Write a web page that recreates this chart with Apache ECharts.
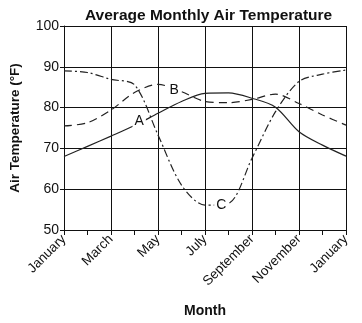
<!DOCTYPE html>
<html><head><meta charset="utf-8">
<script src="https://cdn.jsdelivr.net/npm/echarts@6/dist/echarts.min.js"></script>
<style>html,body{margin:0;padding:0;background:#fff}#c{width:362px;height:323px}</style>
</head><body><div id="c"></div>
<script>
var monthIdx = [0,1,2,3,4,5,6,7,8,9,10,11,12];
var tickLabels = ['January','March','May','July','September','November','January'];
var seriesA = [68, 70.5, 73, 75.6, 78.6, 81.5, 83.5, 83.6, 82.3, 80.1, 74.1, 70.8, 68.1];
var seriesB = [75.5, 76.3, 79.4, 83.7, 85.7, 83.9, 81.5, 81.2, 82, 83.3, 81, 78.2, 75.7];
var seriesC = [89, 88.6, 86.9, 85.6, 73.3, 61, 56.1, 56.5, 67.6, 79, 86.4, 88.2, 89.2];
var labelA = [3.2, 76.7], labelB = [4.69, 84.3], labelC = [6.69, 56.1];

function pts(v){ return monthIdx.map(function(m,i){ return [m, v[i]]; }); }
function mp(name, xy){
  return { symbol:'rect', symbolSize:0, silent:true, animation:false,
    data:[{ coord: xy, value: name,
      label:{ show:true, formatter:name, position:'inside', color:'#111', fontSize:14,
        fontFamily:'Liberation Sans', backgroundColor:'#fff', padding:[1,2] } }] };
}
var chart = echarts.init(document.getElementById('c'));
var font = 'Liberation Sans';
chart.setOption({
  animation:false,
  title:{ text:'Average Monthly Air Temperature', left:80, top:3,
    textStyle:{ fontFamily:font, fontWeight:'bold', fontSize:15.5, color:'#111' } },
  grid:{ left:57, right:16, top:26, bottom:93 },
  xAxis:{ type:'value', min:0, max:12, interval:2,
    name:'Month', nameLocation:'middle', nameGap:74,
    nameTextStyle:{ fontFamily:font, fontWeight:'bold', fontSize:14, color:'#111' },
    axisLine:{ show:true, lineStyle:{ color:'#111', width:1 } },
    axisTick:{ show:true, length:5, lineStyle:{ color:'#111' } },
    minorTick:{ show:true, splitNumber:2, length:5, lineStyle:{ color:'#111' } },
    splitLine:{ show:true, lineStyle:{ color:'#111', width:1 } },
    axisLabel:{ rotate:45, margin:7, fontFamily:font, fontSize:13.5, color:'#111',
      formatter:function(v){ return tickLabels[Math.round(v/2)]; } } },
  yAxis:{ type:'value', min:50, max:100, interval:10,
    name:'Air Temperature (°F)', nameLocation:'middle', nameGap:42,
    nameTextStyle:{ fontFamily:font, fontWeight:'bold', fontSize:13.5, color:'#111' },
    axisLine:{ show:true, lineStyle:{ color:'#111' } },
    axisTick:{ show:true, length:4, lineStyle:{ color:'#111' } },
    splitLine:{ show:true, lineStyle:{ color:'#111', width:1 } },
    axisLabel:{ fontFamily:font, fontSize:14, color:'#111', margin:5 } },
  series:[
    { type:'line', data:pts(seriesA), smooth:0.3, showSymbol:false, z:3,
      lineStyle:{ color:'#222', width:1.2, type:'solid' }, markPoint:mp('A', labelA) },
    { type:'line', data:pts(seriesB), smooth:0.3, showSymbol:false, z:3,
      lineStyle:{ color:'#222', width:1.2, type:[8,5] }, markPoint:mp('B', labelB) },
    { type:'line', data:pts(seriesC), smooth:0.3, showSymbol:false, z:3,
      lineStyle:{ color:'#222', width:1.2, type:[8,3,2,3] }, markPoint:mp('C', labelC) }
  ]
});
</script></body></html>
